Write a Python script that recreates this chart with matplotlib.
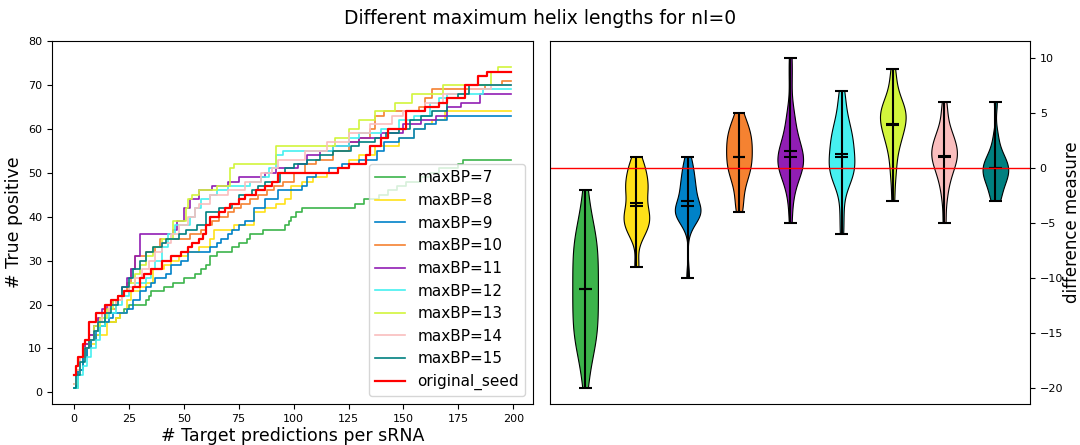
import matplotlib
matplotlib.use("Agg")
import matplotlib.pyplot as plt
import numpy as np

# ---------------- data: left panel (cumulative true positives, step curves) ----------
labels = ["maxBP=7", "maxBP=8", "maxBP=9", "maxBP=10", "maxBP=11", "maxBP=12",
          "maxBP=13", "maxBP=14", "maxBP=15", "original_seed"]
colors = ["#3cb44b", "#ffe119", "#0082c8", "#f58231", "#911eb4", "#46f0f0",
          "#d2f53c", "#fabebe", "#008080", "red"]

bp7_x = [0, 2, 4, 6, 8, 10, 12, 14, 19, 21, 23, 25, 33, 34, 35, 41, 45, 50, 55, 58,
         60, 62, 65, 72, 75, 79, 80, 86, 96, 98, 99, 101, 104, 128, 132, 139, 143, 147, 151, 158,
         162, 166, 175, 177, 199]
bp7_y = [1, 5, 8, 10, 12, 13, 15, 16, 17, 18, 19, 20, 21, 22, 23, 24, 25, 26, 27, 28,
         29, 31, 32, 33, 34, 35, 36, 37, 38, 39, 40, 41, 42, 43, 44, 45, 46, 47, 48, 49,
         50, 51, 52, 53, 53]

bp8_x = [0, 1, 3, 5, 7, 10, 15, 19, 21, 24, 26, 30, 33, 36, 41, 44, 48, 52, 57, 62,
         64, 73, 82, 87, 92, 96, 99, 104, 109, 115, 120, 125, 130, 137, 148, 155, 160, 163, 169, 199]
bp8_y = [2, 5, 8, 10, 11, 13, 16, 17, 18, 21, 23, 24, 25, 28, 29, 30, 31, 32, 33, 35,
         37, 38, 41, 42, 43, 44, 47, 48, 49, 50, 51, 53, 54, 56, 58, 60, 61, 62, 64, 64]

bp9_x = [0, 1, 2, 4, 6, 8, 10, 12, 14, 16, 18, 24, 27, 30, 33, 35, 37, 42, 44, 49,
         52, 62, 65, 67, 70, 72, 75, 78, 82, 87, 93, 104, 106, 110, 116, 122, 130, 138, 141, 148,
         155, 160, 165, 170, 199]
bp9_y = [1, 3, 5, 8, 10, 12, 14, 15, 16, 17, 18, 19, 21, 23, 24, 25, 26, 27, 29, 30,
         32, 33, 34, 35, 36, 37, 38, 39, 42, 44, 46, 47, 49, 50, 51, 52, 53, 55, 57, 58,
         60, 61, 62, 63, 63]

bp10_x = [0, 1, 3, 5, 7, 9, 11, 13, 16, 19, 22, 24, 26, 28, 33, 37, 39, 53, 58, 60,
          63, 66, 70, 73, 76, 80, 84, 88, 91, 95, 100, 105, 110, 118, 125, 130, 135, 137, 141, 157,
          160, 163, 187, 195, 199]
bp10_y = [2, 5, 8, 11, 13, 15, 17, 18, 19, 21, 23, 25, 28, 31, 32, 33, 35, 36, 37, 38,
          39, 40, 41, 42, 43, 44, 45, 46, 47, 48, 50, 52, 53, 55, 57, 58, 60, 63, 64, 65,
          67, 69, 70, 71, 71]

bp11_x = [0, 1, 3, 5, 7, 9, 11, 13, 15, 18, 20, 22, 24, 26, 28, 30, 45, 47, 50, 53,
          57, 63, 70, 75, 87, 92, 102, 106, 112, 118, 125, 130, 140, 150, 158, 165, 170, 176, 185, 199]
bp11_y = [2, 5, 8, 11, 13, 15, 17, 19, 20, 21, 22, 24, 26, 28, 31, 36, 37, 39, 42, 44,
          46, 47, 48, 49, 50, 51, 52, 54, 55, 56, 57, 58, 59, 61, 62, 63, 65, 66, 68, 68]

bp12_x = [0, 2, 4, 6, 8, 10, 12, 14, 16, 19, 22, 25, 28, 33, 35, 37, 40, 43, 46, 53,
          55, 58, 62, 65, 70, 80, 85, 89, 92, 95, 118, 125, 130, 140, 148, 155, 162, 166, 170, 186,
          199]
bp12_y = [1, 4, 6, 8, 10, 12, 15, 17, 18, 20, 22, 24, 25, 26, 28, 30, 33, 36, 38, 40,
          42, 44, 45, 46, 47, 48, 49, 51, 54, 55, 56, 58, 59, 60, 62, 63, 66, 67, 68, 69,
          69]

bp13_x = [0, 1, 3, 5, 7, 9, 12, 15, 18, 20, 22, 25, 28, 30, 33, 36, 40, 45, 51, 52,
          54, 57, 65, 71, 73, 92, 119, 125, 130, 137, 146, 154, 168, 190, 193, 199]
bp13_y = [2, 5, 8, 10, 12, 15, 17, 19, 21, 22, 23, 25, 27, 29, 31, 33, 35, 39, 42, 44,
          45, 46, 47, 51, 52, 56, 58, 60, 62, 64, 66, 68, 70, 73, 74, 74]

bp14_x = [0, 1, 3, 5, 7, 9, 11, 13, 16, 19, 22, 25, 28, 31, 34, 37, 40, 44, 48, 52,
          55, 57, 62, 70, 78, 85, 90, 93, 105, 115, 125, 135, 145, 150, 160, 168, 180, 190, 199]
bp14_y = [2, 5, 8, 10, 12, 14, 16, 18, 20, 21, 23, 24, 26, 28, 30, 32, 34, 36, 38, 40,
          42, 43, 45, 46, 48, 50, 51, 53, 55, 57, 59, 61, 63, 64, 66, 68, 69, 70, 70]

bp15_x = [0, 1, 3, 5, 7, 9, 11, 14, 17, 20, 22, 25, 27, 30, 33, 36, 40, 42, 48, 51,
          56, 60, 66, 72, 75, 81, 84, 87, 94, 96, 100, 106, 112, 118, 126, 130, 137, 142, 148, 153,
          158, 163, 170, 175, 180, 199]
bp15_y = [1, 4, 7, 10, 12, 14, 16, 18, 20, 22, 24, 26, 28, 30, 32, 33, 34, 35, 36, 37,
          38, 41, 42, 43, 45, 46, 47, 48, 50, 51, 52, 53, 54, 55, 56, 57, 58, 59, 60, 62,
          63, 64, 67, 68, 70, 70]

seed_x = [0, 1, 2, 4, 5, 7, 10, 14, 17, 20, 23, 27, 30, 32, 35, 40, 44, 49, 52, 54,
          57, 59, 60, 62, 66, 69, 71, 75, 78, 83, 87, 90, 93, 120, 125, 133, 135, 140, 143, 151,
          160, 166, 170, 178, 184, 188, 199]
seed_y = [4, 6, 8, 11, 12, 16, 18, 20, 21, 22, 23, 24, 26, 27, 28, 30, 31, 32, 33, 34,
          35, 36, 38, 40, 41, 42, 43, 44, 45, 46, 47, 48, 50, 51, 52, 54, 56, 58, 60, 64,
          65, 66, 67, 70, 72, 73, 73]

curves_x = [bp7_x, bp8_x, bp9_x, bp10_x, bp11_x, bp12_x, bp13_x, bp14_x, bp15_x, seed_x]
curves_y = [bp7_y, bp8_y, bp9_y, bp10_y, bp11_y, bp12_y, bp13_y, bp14_y, bp15_y, seed_y]

# ---------------- data: right panel (difference measure per sRNA) ----------------
diff7 = [-20, -18, -17, -16, -16, -15, -15, -14, -14, -13, -13, -12, -12, -11,
         -11, -10, -10, -9, -9, -8, -8, -7, -7, -6, -6, -5, -4, -2]
diff8 = [-9, -6, -6, -5, -5, -5, -4, -4, -4, -3, -2, -2, -2, -1, -1, 0, 0, 1]
diff9 = [-10, -5, -5, -4, -4, -4, -4, -4, -4, -4, -3, -3, -2, -2, -2, -1, -1, 0, 0, 1]
diff10 = [-4, -3, -2, -1, -1, 0, 0, 0, 1, 1, 1, 2, 2, 2, 3, 3, 3, 4, 4, 5]
diff11 = [-5, -3, -2, -1, -1, 0, 0, 0, 0, 0, 1, 1, 1, 1, 1, 2, 2, 2, 3, 3, 4, 5, 5, 8, 10]
diff12 = [-6, -4, -2, -1, -1, -1, 0, 0, 0, 0, 1, 1, 1, 2, 2, 2, 3, 3, 3, 4, 4, 5, 6, 7]
diff13 = [-3, -1, 0, 1, 2, 2, 3, 3, 3, 4, 4, 4, 4, 5, 5, 5, 5, 5, 6, 6, 6, 7, 8, 9]
diff14 = [-5, -3, -2, -1, -1, 0, 0, 0, 1, 1, 1, 1, 1, 2, 2, 2, 2, 3, 3, 3, 4, 5, 6]
diff15 = [-3, -3, -2, -2, -1, -1, -1, -1, 0, 0, 0, 0, 0, 1, 1, 1, 2, 3, 6]
diffs = [diff7, diff8, diff9, diff10, diff11, diff12, diff13, diff14, diff15]

# ---------------- figure ----------------
fig = plt.figure(figsize=(10.8, 4.45), dpi=100)
ax1 = fig.add_axes([0.0481, 0.0921, 0.4454, 0.8157])
ax2 = fig.add_axes([0.5097, 0.0921, 0.4440, 0.8157])

for xs, ys, lab, col in zip(curves_x, curves_y, labels, colors):
    lw = 1.6 if lab == "original_seed" else 1.2
    ax1.step(xs, ys, where="post", color=col, lw=lw, label=lab)

ax1.set_xticks([0, 25, 50, 75, 100, 125, 150, 175, 200])
ax1.set_yticks([0, 10, 20, 30, 40, 50, 60, 70, 80])
ax1.set_ylim(-2.65, 80)
ax1.tick_params(labelsize=8)
ax1.set_xlabel("# Target predictions per sRNA", fontsize=12.5, labelpad=2)
ax1.set_ylabel("# True positive", fontsize=12.5, labelpad=4)
ax1.legend(loc="lower right", fontsize=11, framealpha=0.8)

positions = np.arange(1, len(diffs) + 1)
parts = ax2.violinplot(diffs, positions=positions, showmeans=True,
                       showmedians=True, showextrema=True, bw_method=0.4)
for body, col in zip(parts["bodies"], colors[:9]):
    body.set_facecolor(col)
    body.set_edgecolor("black")
    body.set_linewidth(0.8)
    body.set_alpha(1)
for key in ["cbars", "cmins", "cmaxes", "cmeans", "cmedians"]:
    parts[key].set_color("black")
    parts[key].set_linewidth(1.5)
ax2.axhline(0, color="red", lw=1)
ax2.set_xticks([])
ax2.yaxis.tick_right()
ax2.yaxis.set_label_position("right")
ax2.set_yticks([-20, -15, -10, -5, 0, 5, 10])
ax2.tick_params(labelsize=8)
ax2.set_ylabel("difference measure", fontsize=12, labelpad=0)

fig.suptitle("Different maximum helix lengths for nI=0", fontsize=13.5, y=0.98)

fig.savefig("out.png", dpi=100)
